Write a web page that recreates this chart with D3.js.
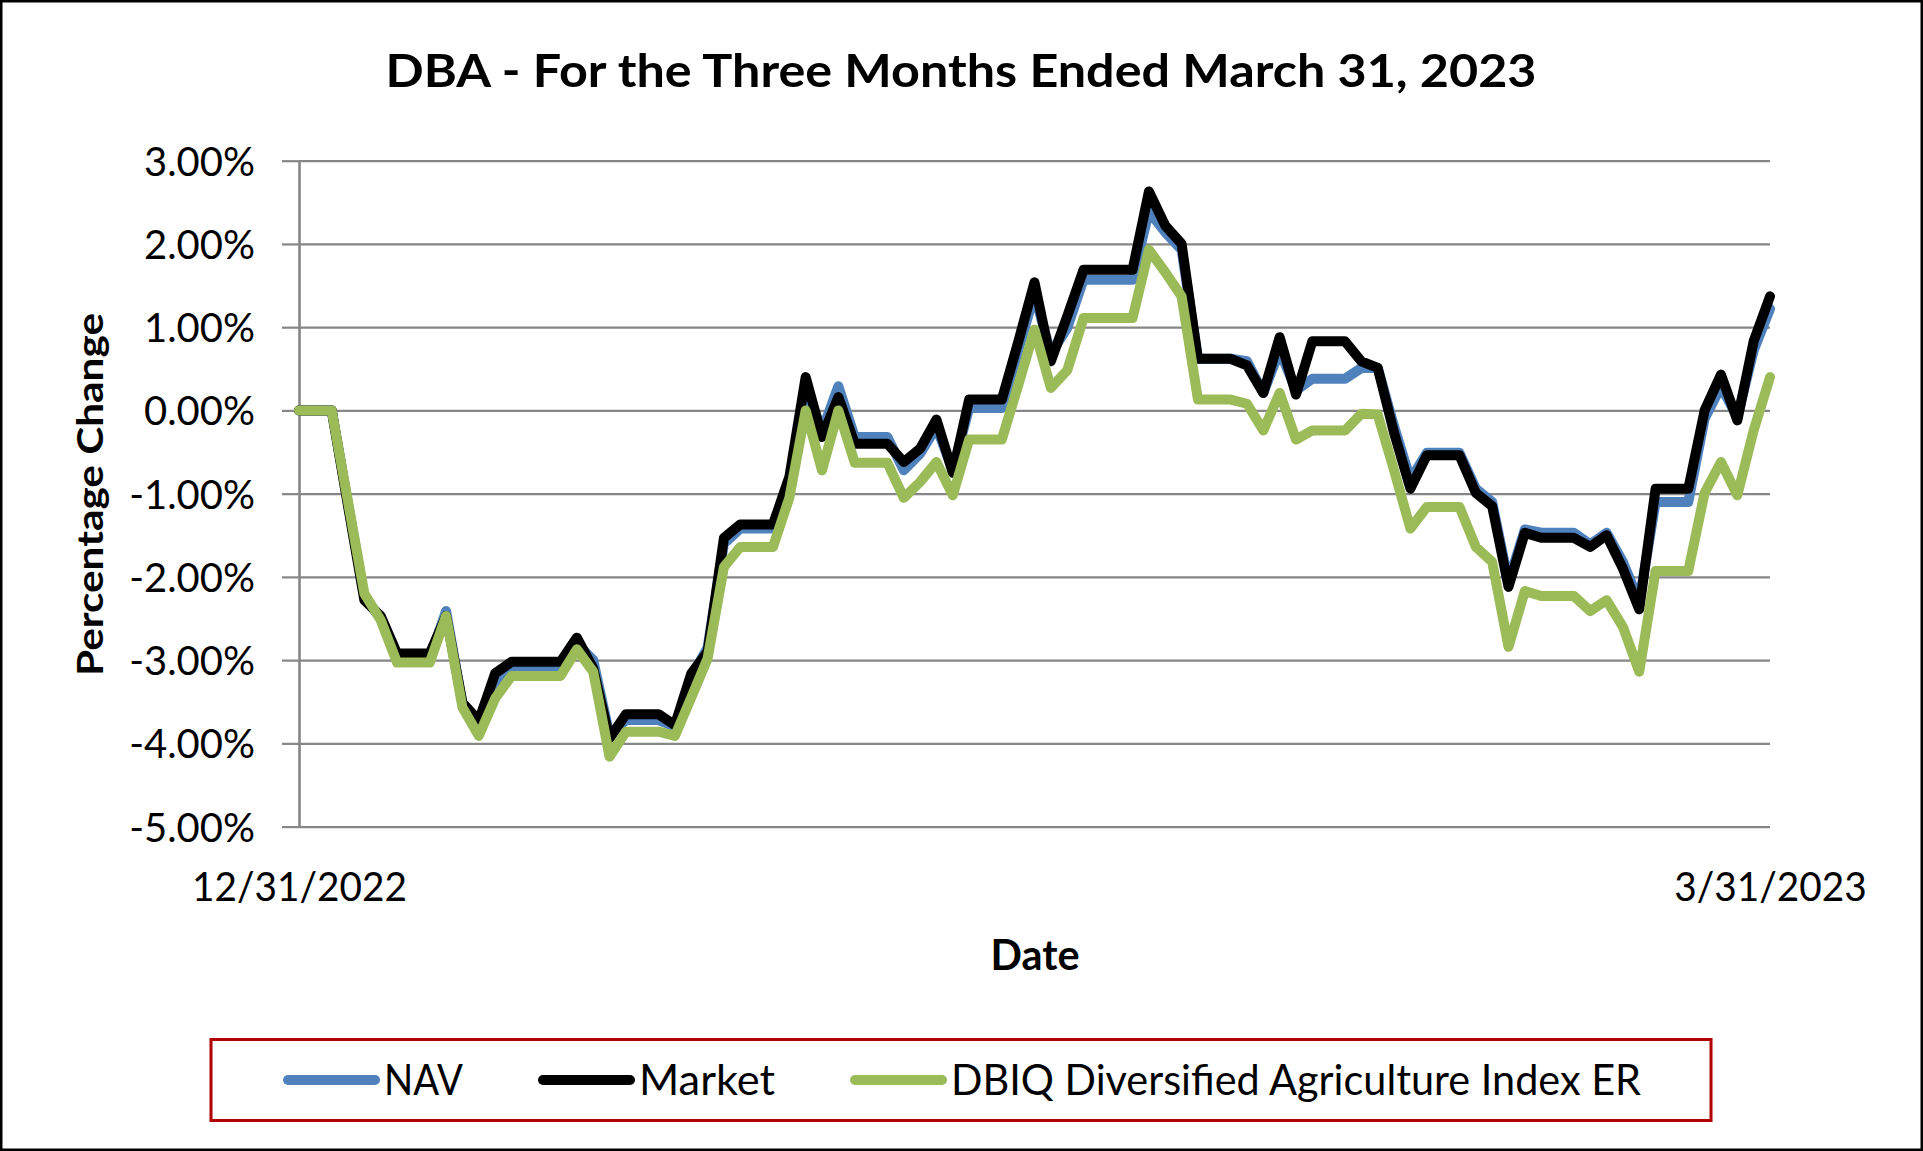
<!DOCTYPE html>
<html>
<head>
<meta charset="utf-8">
<script src="https://cdn.jsdelivr.net/npm/d3@7"></script>
<style>
  html, body { margin: 0; padding: 0; background: #fff; }
  svg { display: block; }
  text { font-family: Lato, "Open Sans", sans-serif; fill: #000; }
</style>
</head>
<body>
<svg id="chart" width="1923" height="1151"></svg>
<script>
// ---------- DATA ----------
const startDate = Date.UTC(2022, 11, 31);   // 12/31/2022, one value per calendar day
const seriesNames = ["NAV", "Market", "DBIQ Diversified Agriculture Index ER"];
const navValues = [
  0, 0, 0, -1.12, -2.25, -2.50, -2.98, -2.98, -2.98, -2.41,
  -3.53, -3.80, -3.30, -3.10, -3.10, -3.10, -3.10, -2.80, -3.00, -3.90,
  -3.72, -3.72, -3.72, -3.80, -3.20, -2.85, -1.60, -1.42, -1.42, -1.42,
  -0.85, 0.30, -0.25, 0.29, -0.32, -0.32, -0.32, -0.72, -0.52, -0.20,
  -0.72, 0.03, 0.03, 0.03, 0.72, 1.40, 0.68, 0.99, 1.57, 1.57,
  1.57, 1.57, 2.39, 2.14, 1.93, 0.62, 0.62, 0.62, 0.59, 0.21,
  0.72, 0.24, 0.38, 0.38, 0.38, 0.51, 0.51, -0.19, -0.83, -0.51,
  -0.51, -0.51, -0.94, -1.10, -2.06, -1.43, -1.47, -1.47, -1.47, -1.61,
  -1.47, -1.82, -2.30, -1.10, -1.10, -1.10, -0.10, 0.29, -0.08, 0.72,
  1.22
];
const marketValues = [
  0, 0, 0, -1.15, -2.28, -2.47, -2.92, -2.92, -2.92, -2.47,
  -3.51, -3.73, -3.16, -3.02, -3.02, -3.02, -3.02, -2.73, -3.10, -3.94,
  -3.65, -3.65, -3.65, -3.78, -3.16, -2.90, -1.53, -1.37, -1.37, -1.37,
  -0.80, 0.40, -0.32, 0.16, -0.40, -0.40, -0.40, -0.62, -0.46, -0.11,
  -0.75, 0.13, 0.13, 0.13, 0.82, 1.54, 0.59, 1.13, 1.69, 1.69,
  1.69, 1.69, 2.63, 2.22, 2.00, 0.62, 0.62, 0.62, 0.54, 0.21,
  0.88, 0.19, 0.83, 0.83, 0.83, 0.59, 0.51, -0.27, -0.94, -0.54,
  -0.54, -0.54, -0.99, -1.15, -2.12, -1.47, -1.53, -1.53, -1.53, -1.64,
  -1.50, -1.90, -2.39, -0.94, -0.94, -0.94, 0.00, 0.43, -0.12, 0.83,
  1.37
];
const indexValues = [
  0, 0, 0, -1.10, -2.20, -2.52, -3.03, -3.03, -3.03, -2.47,
  -3.57, -3.91, -3.46, -3.19, -3.19, -3.19, -3.19, -2.87, -3.14, -4.16,
  -3.86, -3.86, -3.86, -3.91, -3.45, -2.98, -1.88, -1.64, -1.64, -1.64,
  -1.05, 0.00, -0.72, 0.00, -0.63, -0.63, -0.63, -1.05, -0.86, -0.62,
  -1.02, -0.35, -0.35, -0.35, 0.30, 0.97, 0.27, 0.48, 1.11, 1.11,
  1.11, 1.11, 1.93, 1.66, 1.37, 0.13, 0.13, 0.13, 0.08, -0.24,
  0.21, -0.35, -0.24, -0.24, -0.24, -0.04, -0.05, -0.72, -1.42, -1.16,
  -1.16, -1.16, -1.64, -1.82, -2.84, -2.17, -2.23, -2.23, -2.23, -2.41,
  -2.28, -2.60, -3.14, -1.93, -1.93, -1.93, -0.99, -0.62, -1.02, -0.24,
  0.40
];
const yTickValues = [3, 2, 1, 0, -1, -2, -3, -4, -5];
const xTickLabels = ["12/31/2022", "3/31/2023"];

// ---------- STYLE ----------
const seriesColors = ["#4F81BD", "#000000", "#9BBB59"];
const gridColor = "#868686";
const lineWidth = 10;
const legendTextWidths = [79, 136, 690];

// ---------- BUILD ----------
const svg = d3.select("#chart");
svg.append("rect").attr("x", 1.25).attr("y", 1.25).attr("width", 1920.5).attr("height", 1148.5)
  .attr("fill", "#fff").attr("stroke", "#000").attr("stroke-width", 2.5);

const dates = navValues.map((_, i) => new Date(startDate + i * 86400000));
const endDate = dates[dates.length - 1];

const plot = { left: 299, right: 1770, top: 160.7, bottom: 826.6 };
const x = d3.scaleUtc().domain([new Date(startDate), endDate]).range([plot.left, plot.right]);
const y = d3.scaleLinear().domain([-5, 3]).range([plot.bottom, plot.top]);

function fitScale(sel, k) {
  sel.each(function () {
    const w = this.getComputedTextLength();
    this.setAttribute("textLength", w * k);
    this.setAttribute("lengthAdjust", "spacingAndGlyphs");
  });
}
function fitWidth(sel, w) {
  sel.attr("textLength", w).attr("lengthAdjust", "spacingAndGlyphs");
}

// gridlines
const grid = svg.append("g").attr("transform", `translate(${plot.left},0)`)
  .call(d3.axisLeft(y).tickValues(yTickValues).tickSize(-(plot.right - plot.left)).tickFormat(""));
grid.select(".domain").remove();
grid.selectAll("line").attr("stroke", gridColor).attr("stroke-width", 2.2);

// y axis with outside ticks and labels
const yAxis = svg.append("g").attr("transform", `translate(${plot.left},0)`)
  .call(d3.axisLeft(y).tickValues(yTickValues).tickSizeInner(17).tickSizeOuter(0).tickPadding(27)
    .tickFormat(d => d.toFixed(2) + "%"));
yAxis.select(".domain").attr("stroke", gridColor).attr("stroke-width", 2.6);
yAxis.selectAll(".tick line").attr("stroke", gridColor).attr("stroke-width", 2.2);
yAxis.selectAll("text").attr("font-size", 40.5).attr("font-family", "Lato, 'Open Sans', sans-serif")
  .attr("fill", "#000").attr("dy", null).attr("y", 14.5);
{
  const first = yAxis.select(".tick text").node();
  const k = 111 / first.getComputedTextLength();
  fitScale(yAxis.selectAll("text"), k);
}

// x axis labels (first and last date)
const xAxis = svg.append("g").attr("transform", `translate(0,${plot.bottom})`)
  .call(d3.axisBottom(x).tickValues([new Date(startDate), endDate]).tickSize(0)
    .tickFormat((d, i) => xTickLabels[i]));
xAxis.select(".domain").remove();
xAxis.selectAll("text").attr("font-size", 40.5).attr("font-family", "Lato, 'Open Sans', sans-serif")
  .attr("fill", "#000").attr("dy", null).attr("y", 74);
{
  const first = xAxis.select(".tick text").node();
  const k = 215 / first.getComputedTextLength();
  fitScale(xAxis.selectAll("text"), k);
}

// series lines: NAV, Market, Index (index drawn on top)
const allSeries = [navValues, marketValues, indexValues];
const line = d3.line().x((d, i) => x(dates[i])).y(d => y(d));
svg.append("g").selectAll("path").data(allSeries).join("path")
  .attr("d", d => line(d))
  .attr("fill", "none")
  .attr("stroke", (d, i) => seriesColors[i])
  .attr("stroke-width", lineWidth)
  .attr("stroke-linejoin", "round")
  .attr("stroke-linecap", "round");

// title
fitWidth(svg.append("text").attr("x", 961).attr("y", 86.7).attr("text-anchor", "middle")
  .attr("font-size", 46.5).attr("font-weight", "bold").text("DBA - For the Three Months Ended March 31, 2023"), 1151);

// axis titles
fitWidth(svg.append("text").attr("x", 1035).attr("y", 970).attr("text-anchor", "middle")
  .attr("font-size", 42).attr("font-weight", "bold").text("Date"), 89);
fitWidth(svg.append("text").attr("transform", "translate(103,494.5) rotate(-90)").attr("text-anchor", "middle")
  .attr("font-size", 37).attr("font-weight", "bold").text("Percentage Change"), 363);

// legend
const legend = svg.append("g");
legend.append("rect").attr("x", 211).attr("y", 1039.5).attr("width", 1500).attr("height", 81)
  .attr("fill", "none").attr("stroke", "#B00000").attr("stroke-width", 3);
let cx = 283;
seriesNames.forEach((name, i) => {
  const w = legendTextWidths[i];
  legend.append("line").attr("x1", cx + 5).attr("x2", cx + 97 - 5).attr("y1", 1080).attr("y2", 1080)
    .attr("stroke", seriesColors[i]).attr("stroke-width", lineWidth).attr("stroke-linecap", "round");
  legend.append("text").attr("x", cx + 101).attr("y", 1095).attr("font-size", 42)
    .attr("textLength", w).attr("lengthAdjust", "spacingAndGlyphs").text(name);
  cx = cx + 101 + w + 75;
});
</script>
</body>
</html>
